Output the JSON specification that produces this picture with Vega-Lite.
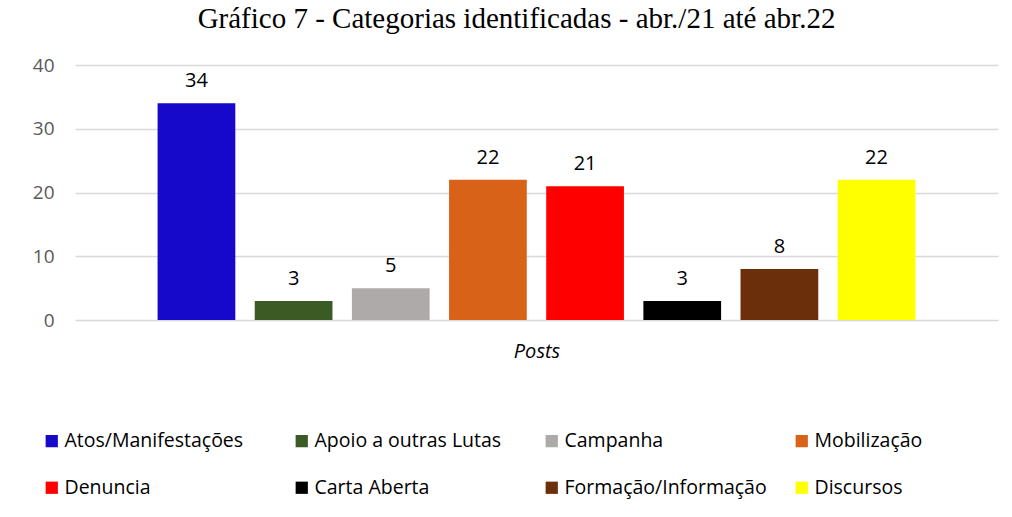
{
  "$schema": "https://vega.github.io/schema/vega-lite/v6.json",
  "width": 923,
  "height": 255,
  "padding": {"left": 32, "top": 5, "right": 16, "bottom": 5},
  "background": "white",
  "title": {"text": "Gráfico 7 - Categorias identificadas - abr./21 até abr.22", "font": "Liberation Serif", "fontSize": 29, "fontWeight": "normal", "color": "black", "offset": 22, "anchor": "middle", "dx": -20},
  "data": {"values": [
    {"categoria": "Atos/Manifestações", "posts": 34},
    {"categoria": "Apoio a outras Lutas", "posts": 3},
    {"categoria": "Campanha", "posts": 5},
    {"categoria": "Mobilização", "posts": 22},
    {"categoria": "Denuncia", "posts": 21},
    {"categoria": "Carta Aberta", "posts": 3},
    {"categoria": "Formação/Informação", "posts": 8},
    {"categoria": "Discursos", "posts": 22}
  ]},
  "encoding": {
    "x": {"field": "categoria", "type": "nominal", "sort": null,
      "scale": {"paddingInner": 0.2, "paddingOuter": 0.85},
      "axis": {"labels": false, "ticks": false, "domain": false, "title": "Posts", "titleFont": "Open Sans", "titleFontSize": 20, "titleFontStyle": "italic", "titleFontWeight": "normal", "titleColor": "black", "titlePadding": 21}},
    "y": {"field": "posts", "type": "quantitative", "scale": {"domain": [0, 40]},
      "axis": {"values": [0, 10, 20, 30, 40], "title": null, "domain": false, "ticks": false, "labelFont": "Open Sans", "labelFontSize": 19, "labelColor": "#595959", "labelPadding": 21, "gridColor": "#d9d9d9", "gridWidth": 1.5}}
  },
  "layer": [
    {"mark": {"type": "bar"},
      "encoding": {"color": {"field": "categoria", "type": "nominal", "sort": null,
        "scale": {"domain": ["Atos/Manifestações", "Apoio a outras Lutas", "Campanha", "Mobilização", "Denuncia", "Carta Aberta", "Formação/Informação", "Discursos"],
          "range": ["#1609c9", "#3b5a24", "#aeaaa9", "#d86218", "#ff0000", "#000000", "#6b2f0c", "#ffff00"]},
        "legend": {"orient": "none", "direction": "horizontal", "legendX": -33, "legendY": 366, "title": null, "columns": 4, "gridAlign": "all", "symbolType": "square", "symbolSize": 150, "symbolStrokeWidth": 0, "labelFont": "Open Sans", "labelFontSize": 19.5, "labelColor": "black", "labelLimit": 300, "columnPadding": 25, "rowPadding": 26, "symbolOffset": 0, "labelOffset": 3}}}},
    {"mark": {"type": "text", "baseline": "bottom", "dy": -12, "font": "Open Sans", "fontSize": 20, "color": "black"},
      "encoding": {"text": {"field": "posts", "type": "quantitative"}}}
  ],
  "config": {"view": {"stroke": null}, "axis": {"gridColor": "#d9d9d9"}}
}
